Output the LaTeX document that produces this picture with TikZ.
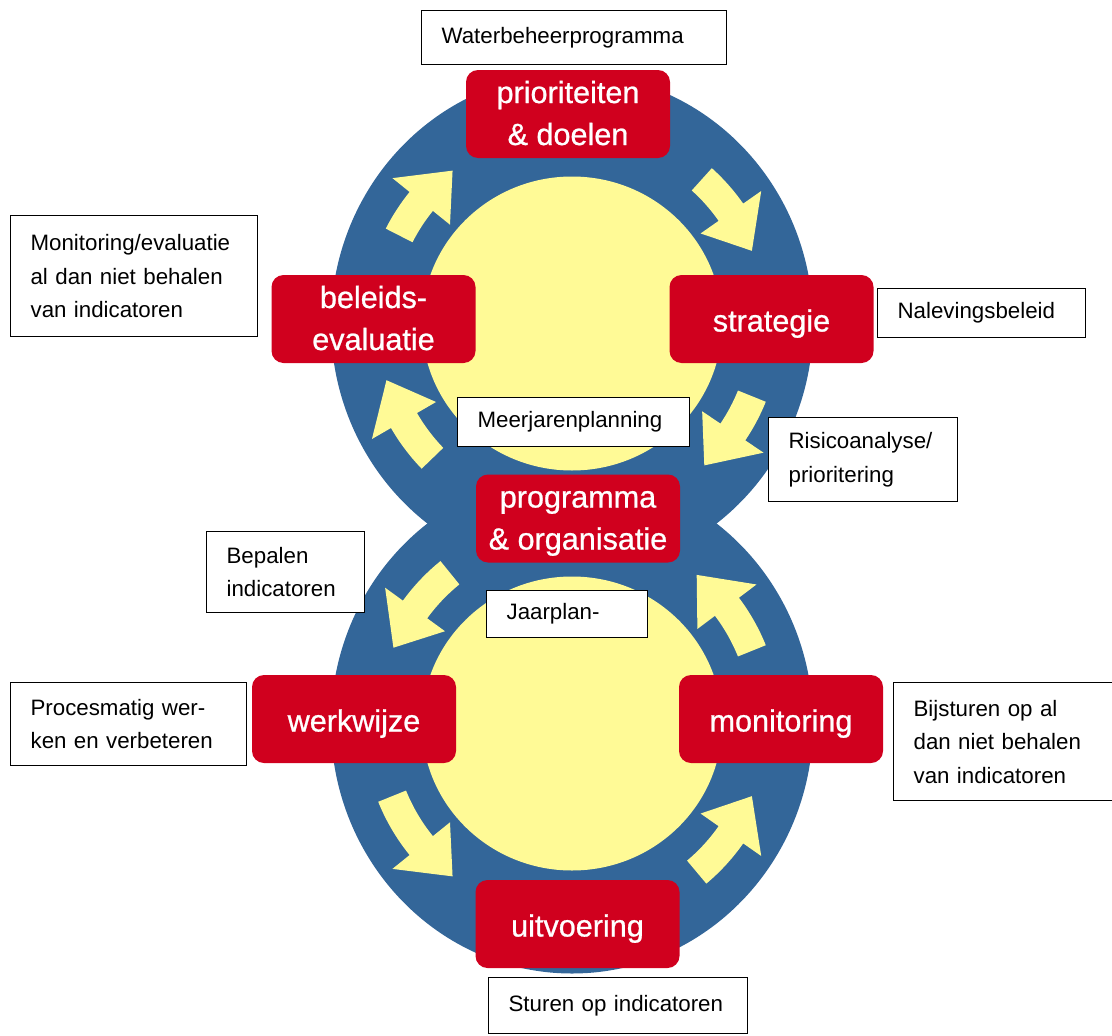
\documentclass[tikz,border=0pt]{standalone}
\usepackage{fontspec}
\setmainfont{Liberation Sans}
\newfontfamily\stagefont{Liberation Sans}[FakeBold=0.8]
\usetikzlibrary{calc}
\definecolor{ringblue}{RGB}{51,102,153}
\definecolor{coreyellow}{RGB}{255,250,150}
\definecolor{stagered}{RGB}{208,0,30}
\tikzset{
  stagebox/.style={fill=stagered, rounded corners=12pt, minimum width=204pt, minimum height=88pt, inner sep=0pt, text=white, align=center, font=\stagefont\fontsize{30.6}{42}\selectfont, text height=31pt, text depth=6pt},
  twolines/.style={text height=64pt, text depth=2pt},
  notebox/.style={draw=black, line width=1.2pt, fill=white, anchor=north west, align=left, inner xsep=20pt, inner ysep=0pt, font=\fontsize{22.3}{33.5}\selectfont}
}
\newcommand{\ringarrow}[4]{ \fill[coreyellow] ($(#1,#2)+(#3:179)$) arc[start angle=#3, end angle={#4-13*sign(#4-(#3))}, radius=179] -- ($(#1,#2)+({#4-13*sign(#4-(#3))}:157)$) -- ($(#1,#2)+(#4:194)$) -- ($(#1,#2)+({#4-13*sign(#4-(#3))}:231)$) -- ($(#1,#2)+({#4-13*sign(#4-(#3))}:209)$) arc[start angle={#4-13*sign(#4-(#3))}, end angle=#3, radius=209] -- cycle;}
\newcommand{\stagenode}[5][]{ \node[stagebox,#1] (#2) at (#3,#4) {#5};}
\newcommand{\textnote}[7]{ \node[notebox, minimum width=#4pt, minimum height=#5pt, text width=#6pt] (#1) at (#2,#3) {#7};}
\begin{document}
\begin{tikzpicture}[x=1pt,y=-1pt]
        \useasboundingbox (0,0) rectangle (1112,1036);
        \fill[ringblue] (572,323.5) ellipse [x radius=241, y radius=250];
        \fill[ringblue] (572,723.5) ellipse [x radius=241, y radius=250];
        \fill[coreyellow] (572,323.5) ellipse [x radius=150, y radius=147];
        \fill[coreyellow] (572,723.5) ellipse [x radius=150, y radius=147];
        \ringarrow{572}{323.5}{-153}{-128}
        \ringarrow{572}{323.5}{-48}{-22}
        \ringarrow{572}{323.5}{22}{47}
        \ringarrow{572}{323.5}{136}{163}
        \ringarrow{572}{723.5}{-129}{-157}
        \ringarrow{572}{723.5}{158}{128}
        \ringarrow{572}{723.5}{50}{22}
        \ringarrow{572}{723.5}{-22}{-50}
        \stagenode[twolines]{prio}{568}{114}{prioriteiten\\\& doelen}
        \stagenode[twolines]{beleid}{373.5}{319}{beleids-\\evaluatie}
        \stagenode{strat}{771.5}{319}{strategie}
        \stagenode[twolines]{progr}{578}{518.5}{programma\\\& organisatie}
        \stagenode{werk}{354}{719}{werkwijze}
        \stagenode{monit}{781}{719}{monitoring}
        \stagenode{uitv}{577.5}{924}{uitvoering}
        \textnote{water}{421}{10}{305}{54}{265}{Waterbeheerprogramma}
        \textnote{evalnote}{10}{215}{247}{121}{207}{Monitoring/evaluatie\\al dan niet behalen\\van indicatoren}
        \textnote{naleving}{877}{288}{208}{49}{168}{Nalevingsbeleid}
        \textnote{meerjaren}{457}{397}{232}{49}{192}{Meerjarenplanning}
        \textnote{risico}{768}{417}{189}{84}{149}{Risicoanalyse/\\prioritering}
        \textnote{bepalen}{206}{531}{158}{81}{118}{Bepalen\\indicatoren}
        \textnote{jaarplan}{486}{590}{161}{47}{121}{Jaarplan-}
        \textnote{proces}{10}{682}{236}{83}{196}{Procesmatig wer-\\ken en verbeteren}
        \textnote{bijsturen}{893}{682}{219}{118}{179}{Bijsturen op al\\dan niet behalen\\van indicatoren}
        \textnote{sturen}{488}{977}{259}{56}{219}{Sturen op indicatoren}
    \end{tikzpicture}
\end{document}
